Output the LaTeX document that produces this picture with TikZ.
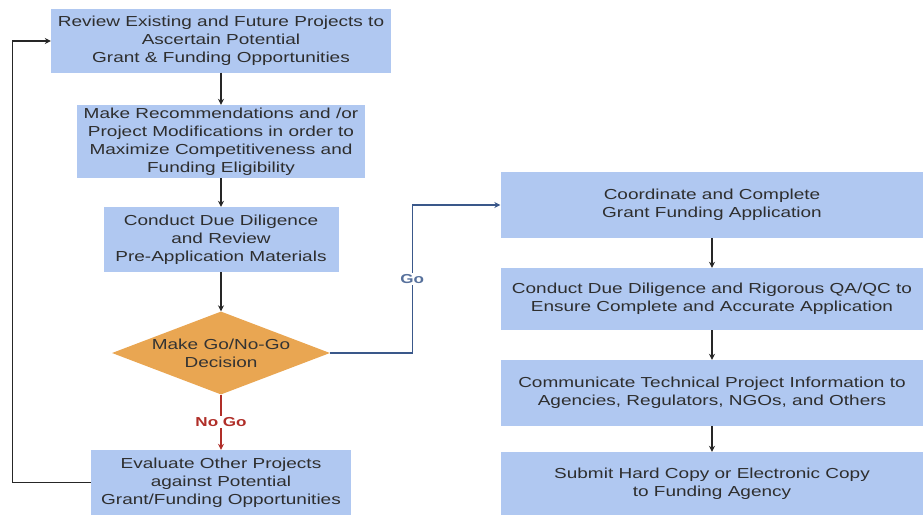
\documentclass[tikz,border=0pt]{standalone}
\usepackage{fontspec}
\setmainfont[FakeStretch=1.31]{Liberation Sans}
\usetikzlibrary{shapes.geometric,arrows.meta}

\definecolor{boxblue}{RGB}{176,200,241}
\definecolor{decorange}{RGB}{233,166,82}
\definecolor{goblue}{RGB}{58,88,138}
\definecolor{nogored}{RGB}{176,46,40}

\begin{document}
\begin{tikzpicture}[
            x=1pt, y=-1pt,
            >={Stealth[length=6pt,width=6pt]},
            box/.style={rectangle, fill=boxblue, align=center, inner sep=0pt,
                text=black!82, font=\fontsize{14.5}{18}\selectfont},
            decision/.style={diamond, fill=decorange, aspect=2.6, inner sep=0pt,
                minimum width=218pt, minimum height=83pt, align=center,
                text=black!80, font=\fontsize{14.5}{18}\selectfont},
            flow/.style={->, draw=black!85, line width=1.4pt},
            label/.style={fill=white, inner sep=1.5pt, font=\bfseries\fontsize{13}{15}\selectfont}
        ]

        \useasboundingbox (0,0) rectangle (923,519);

        % Nodes (left column)
        \node[box, minimum width=340pt, minimum height=63pt] (review) at (221,41)
            {Review Existing and Future Projects to\\Ascertain Potential\\Grant \& Funding Opportunities};
        \node[box, minimum width=288pt, minimum height=73pt] (recommend) at (221,141.5)
            {Make Recommendations and /or\\Project Modifications in order to\\Maximize Competitiveness and\\Funding Eligibility};
        \node[box, minimum width=235pt, minimum height=65pt] (diligence) at (221,239.5)
            {Conduct Due Diligence\\and Review\\Pre-Application Materials};
        \node[decision] (gonogo) at (221,353) {Make Go/No-Go\\Decision};
        \node[box, minimum width=260pt, minimum height=65pt] (evaluate) at (221,482.5)
            {Evaluate Other Projects\\against Potential\\Grant/Funding Opportunities};

        % Nodes (right column)
        \node[box, minimum width=423pt, minimum height=66pt] (coordinate) at (712,205)
            {Coordinate and Complete\\Grant Funding Application};
        \node[box, minimum width=423pt, minimum height=62pt] (qaqc) at (712,299)
            {Conduct Due Diligence and Rigorous QA/QC to\\Ensure Complete and Accurate Application};
        \node[box, minimum width=423pt, minimum height=66pt] (communicate) at (712,393)
            {Communicate Technical Project Information to\\Agencies, Regulators, NGOs, and Others};
        \node[box, minimum width=423pt, minimum height=63pt] (submit) at (712,483.5)
            {Submit Hard Copy or Electronic Copy\\to Funding Agency};

        % Edges
        \draw[flow] (review) -- (recommend);
        \draw[flow] (recommend) -- (diligence);
        \draw[flow] (diligence) -- (gonogo);
        \draw[flow, draw=nogored] (gonogo) -- node[label, text=nogored] {No Go} (evaluate);
        \draw[flow, line width=1.1pt] (evaluate.west) -- ++(-78,0) |- (review.west);
        \draw[flow, draw=goblue, line width=1.1pt] (gonogo.east) -- ++(82,0)
            |- node[label, text=goblue!85, pos=0.25] {Go} (coordinate.west);
        \draw[flow] (coordinate) -- (qaqc);
        \draw[flow] (qaqc) -- (communicate);
        \draw[flow] (communicate) -- (submit);

        \end{tikzpicture}
\end{document}
